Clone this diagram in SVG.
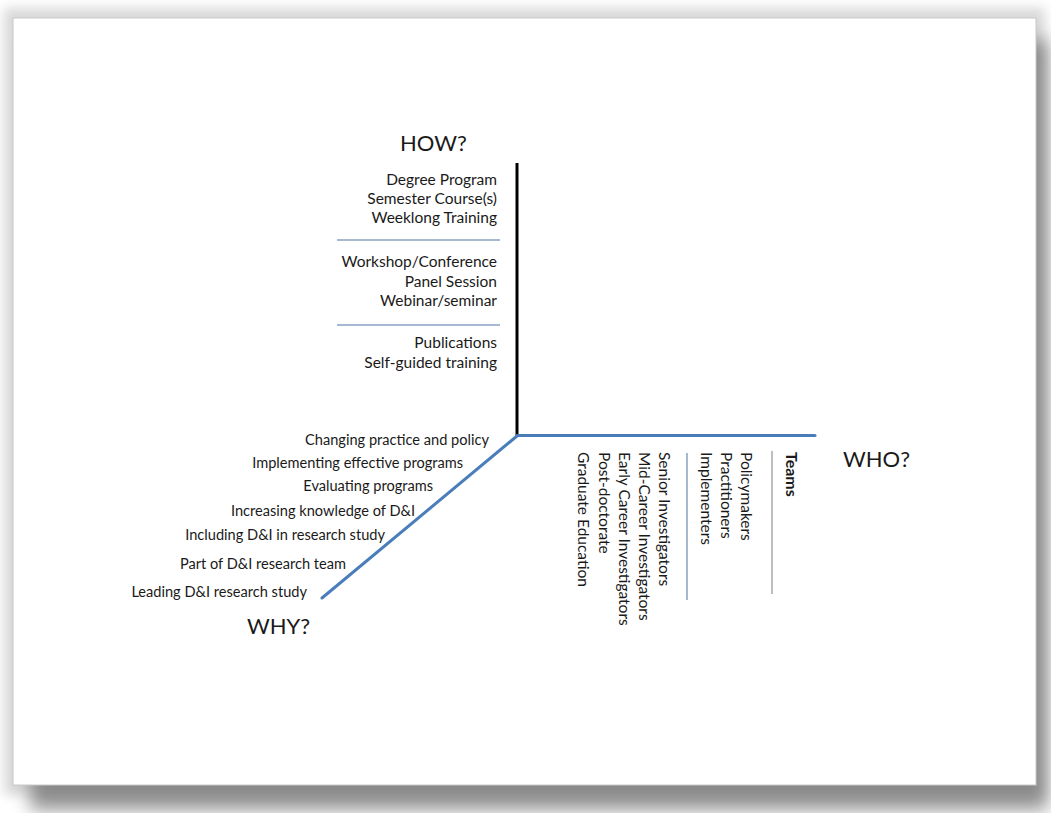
<svg xmlns="http://www.w3.org/2000/svg" width="1051" height="813" viewBox="0 0 1051 813">
  <defs>
    <filter id="shadowBlur" x="-10%" y="-10%" width="120%" height="120%">
      <feGaussianBlur stdDeviation="9"/>
    </filter>
    <filter id="glowBlur" x="-10%" y="-10%" width="120%" height="120%">
      <feGaussianBlur stdDeviation="6"/>
    </filter>
  </defs>
  <style>
    .lbl { font-family: Lato, "Liberation Sans", sans-serif; font-size: 15.5px; fill: #1a1a1a; }
    .why { font-size: 14.6px; }
    .head { font-family: Lato, "Liberation Sans", sans-serif; font-size: 22px; fill: #1a1a1a; }
    .bold { font-weight: bold; font-size: 16px; }
    .end { text-anchor: end; }
    .sep { stroke: #8aa0c4; stroke-width: 1.5; fill: none; }
    .gsep { stroke: #a8a8a8; stroke-width: 1.5; fill: none; }
    .axis-black { stroke: #000000; stroke-width: 3; fill: none; }
    .axis-blue { stroke: #4a7ebb; stroke-width: 3; fill: none; stroke-linecap: round; }
  </style>

  <rect x="0" y="0" width="1051" height="813" fill="#ffffff"/>
  <g id="page">
    <rect x="4" y="8" width="1041" height="787" fill="#d8d8d8" filter="url(#glowBlur)"/>
    <rect x="30" y="40" width="1018" height="770" fill="#707070" opacity="0.75" filter="url(#shadowBlur)"/>
    <rect x="13" y="18" width="1023" height="767" fill="#ffffff" stroke="#c8c8c8" stroke-width="1"/>
  </g>

  <g id="connectors">
    <line class="axis-black" x1="517" y1="163" x2="517" y2="436"/>
    <line class="axis-blue" x1="517" y1="435.5" x2="815" y2="435.5"/>
    <line class="axis-blue" x1="517" y1="436" x2="322" y2="598"/>
  </g>

  <g id="how">
    <text class="head" x="400" y="151">HOW?</text>
    <g id="how-group-1">
      <text class="lbl end" x="497" y="185">Degree Program</text>
      <text class="lbl end" x="497" y="204">Semester Course(s)</text>
      <text class="lbl end" x="497" y="223">Weeklong  Training</text>
    </g>
    <line class="sep" x1="337" y1="240" x2="500" y2="240"/>
    <g id="how-group-2">
      <text class="lbl end" x="497" y="267">Workshop/Conference</text>
      <text class="lbl end" x="497" y="287">Panel Session</text>
      <text class="lbl end" x="497" y="306">Webinar/seminar</text>
    </g>
    <line class="sep" x1="337" y1="325" x2="500" y2="325"/>
    <g id="how-group-3">
      <text class="lbl end" x="497" y="348">Publications</text>
      <text class="lbl end" x="497" y="368">Self-guided training</text>
    </g>
  </g>

  <g id="why">
    <text class="lbl why end" x="489" y="445">Changing practice and policy</text>
    <text class="lbl why end" x="463" y="468">Implementing effective programs</text>
    <text class="lbl why end" x="433" y="491">Evaluating programs</text>
    <text class="lbl why end" x="415" y="516">Increasing knowledge of D&amp;I</text>
    <text class="lbl why end" x="385" y="540">Including D&amp;I in research study</text>
    <text class="lbl why end" x="346" y="569">Part of D&amp;I research team</text>
    <text class="lbl why end" x="307" y="597">Leading D&amp;I research study</text>
    <text class="head" x="247" y="634">WHY?</text>
  </g>

  <g id="who">
    <text class="head" x="843" y="467">WHO?</text>
    <g id="who-teams">
      <text class="lbl bold" transform="translate(786,452) rotate(90)">Teams</text>
      <line class="gsep" x1="772" y1="451" x2="772" y2="594"/>
    </g>
    <g id="who-roles">
      <text class="lbl" transform="translate(741,452) rotate(90)">Policymakers</text>
      <text class="lbl" transform="translate(721,452) rotate(90)">Practitioners</text>
      <text class="lbl" transform="translate(701,452) rotate(90)">Implementers</text>
      <line class="sep" x1="687" y1="453" x2="687" y2="600"/>
    </g>
    <g id="who-career">
      <text class="lbl" transform="translate(659,452) rotate(90)">Senior Investigators</text>
      <text class="lbl" transform="translate(639,452) rotate(90)">Mid-Career Investigators</text>
      <text class="lbl" transform="translate(619,452) rotate(90)">Early Career Investigators</text>
      <text class="lbl" transform="translate(599,452) rotate(90)">Post-doctorate</text>
      <text class="lbl" transform="translate(578,452) rotate(90)">Graduate Education</text>
    </g>
  </g>
</svg>
